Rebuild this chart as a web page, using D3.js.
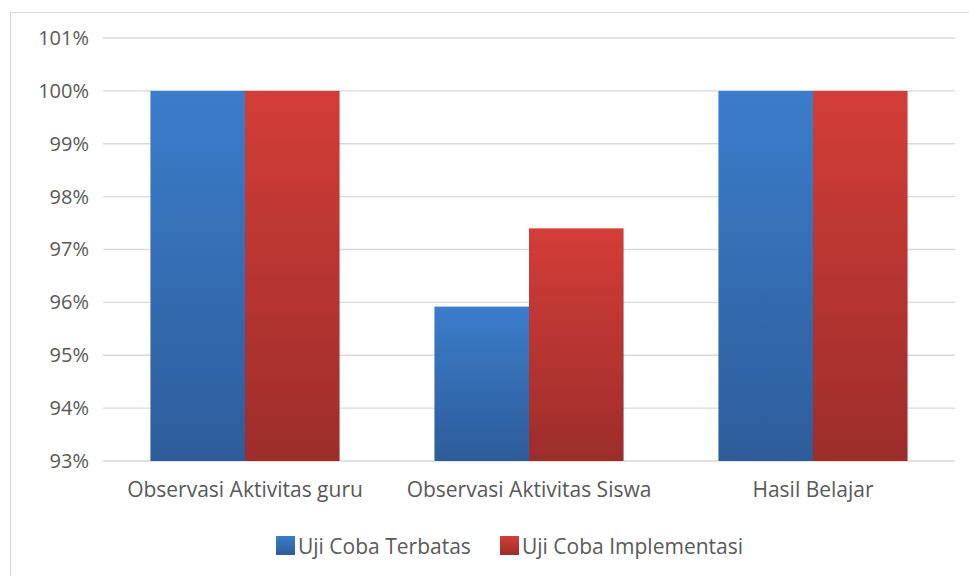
<!DOCTYPE html>
<html><head><meta charset="utf-8">
<script src="https://cdn.jsdelivr.net/npm/d3@7/dist/d3.min.js"></script>
<style>body{margin:0;background:#fff;}svg{display:block;font-family:"Open Sans",sans-serif;}</style>
</head><body><div id="c"></div>
<script>
const categories = ["Observasi Aktivitas guru", "Observasi Aktivitas Siswa", "Hasil Belajar"];
const seriesNames = ["Uji Coba Terbatas", "Uji Coba Implementasi"];
const terbatas = [100, 95.92, 100];
const implementasi = [100, 97.4, 100];
const yTicks = [93, 94, 95, 96, 97, 98, 99, 100, 101];

(function(){
const W = 969, H = 576;
const svg = d3.select("#c").append("svg").attr("width", W).attr("height", H);
const defs = svg.append("defs");
function grad(id, c1, c2){
  const g = defs.append("linearGradient").attr("id", id).attr("x1",0).attr("y1",0).attr("x2",0).attr("y2",1);
  g.append("stop").attr("offset","0%").attr("stop-color",c1);
  g.append("stop").attr("offset","100%").attr("stop-color",c2);
}
grad("gBlue", "#3b7dcb", "#2e5c9a");
grad("gRed", "#d33d37", "#9c2d2b");
const colors = ["url(#gBlue)", "url(#gRed)"];
const legendColors = [["#3b7dcb","#2e5c9a"],["#d33d37","#9c2d2b"]];

svg.append("rect").attr("x",10.5).attr("y",12.5).attr("width",W).attr("height",H).attr("fill","#fff").attr("stroke","#d9d9d9");

const pL = 103, pR = 955, pT = 38, pB = 461;
const y = d3.scaleLinear().domain([93, 101]).range([pB, pT]);
const x0 = d3.scaleBand().domain(categories).range([pL, pR]).paddingInner(0.334).paddingOuter(0.167);
const x1 = d3.scaleBand().domain(seriesNames).range([0, x0.bandwidth()]);

const grid = svg.append("g");
yTicks.forEach(t => {
  grid.append("line").attr("x1", pL).attr("x2", pR).attr("y1", y(t)).attr("y2", y(t))
    .attr("stroke", "#d9d9d9").attr("stroke-width", 1.3);
});

const yAxis = svg.append("g").attr("transform", `translate(${pL},0)`)
  .call(d3.axisLeft(y).tickValues(yTicks).tickSize(0).tickPadding(14).tickFormat(d => d + "%"));
yAxis.select(".domain").remove();
yAxis.selectAll("text").attr("font-size", 20).attr("fill", "#595959").attr("font-family","Open Sans, sans-serif");

const data = categories.map((c, i) => ({c, vals: [terbatas[i], implementasi[i]]}));
const groups = svg.append("g").selectAll("g").data(data).join("g")
  .attr("transform", d => `translate(${x0(d.c)},0)`);
groups.selectAll("rect").data(d => d.vals.map((v, j) => ({v, j}))).join("rect")
  .attr("x", d => x1(seriesNames[d.j]))
  .attr("width", x1.bandwidth())
  .attr("y", d => y(d.v))
  .attr("height", d => y(93) - y(d.v))
  .attr("fill", d => colors[d.j]);

const xAxis = svg.append("g").attr("transform", `translate(0,${pB})`)
  .call(d3.axisBottom(x0).tickSize(0).tickPadding(21));
xAxis.select(".domain").remove();
xAxis.selectAll("text").attr("font-size", 21).attr("fill", "#595959").attr("font-family","Open Sans, sans-serif");

const legY = 554;
const leg = svg.append("g");
const legItems = [{x: 276, name: seriesNames[0], j:0}, {x: 500, name: seriesNames[1], j:1}];
legItems.forEach(it => {
  const gid = "lg" + it.j;
  grad(gid, legendColors[it.j][0], legendColors[it.j][1]);
  leg.append("rect").attr("x", it.x).attr("y", 536).attr("width", 19).attr("height", 19).attr("fill", `url(#${gid})`);
  leg.append("text").attr("x", it.x + 22).attr("y", legY)
    .attr("font-size", 21).attr("fill", "#595959").text(it.name);
});
})();
</script></body></html>
